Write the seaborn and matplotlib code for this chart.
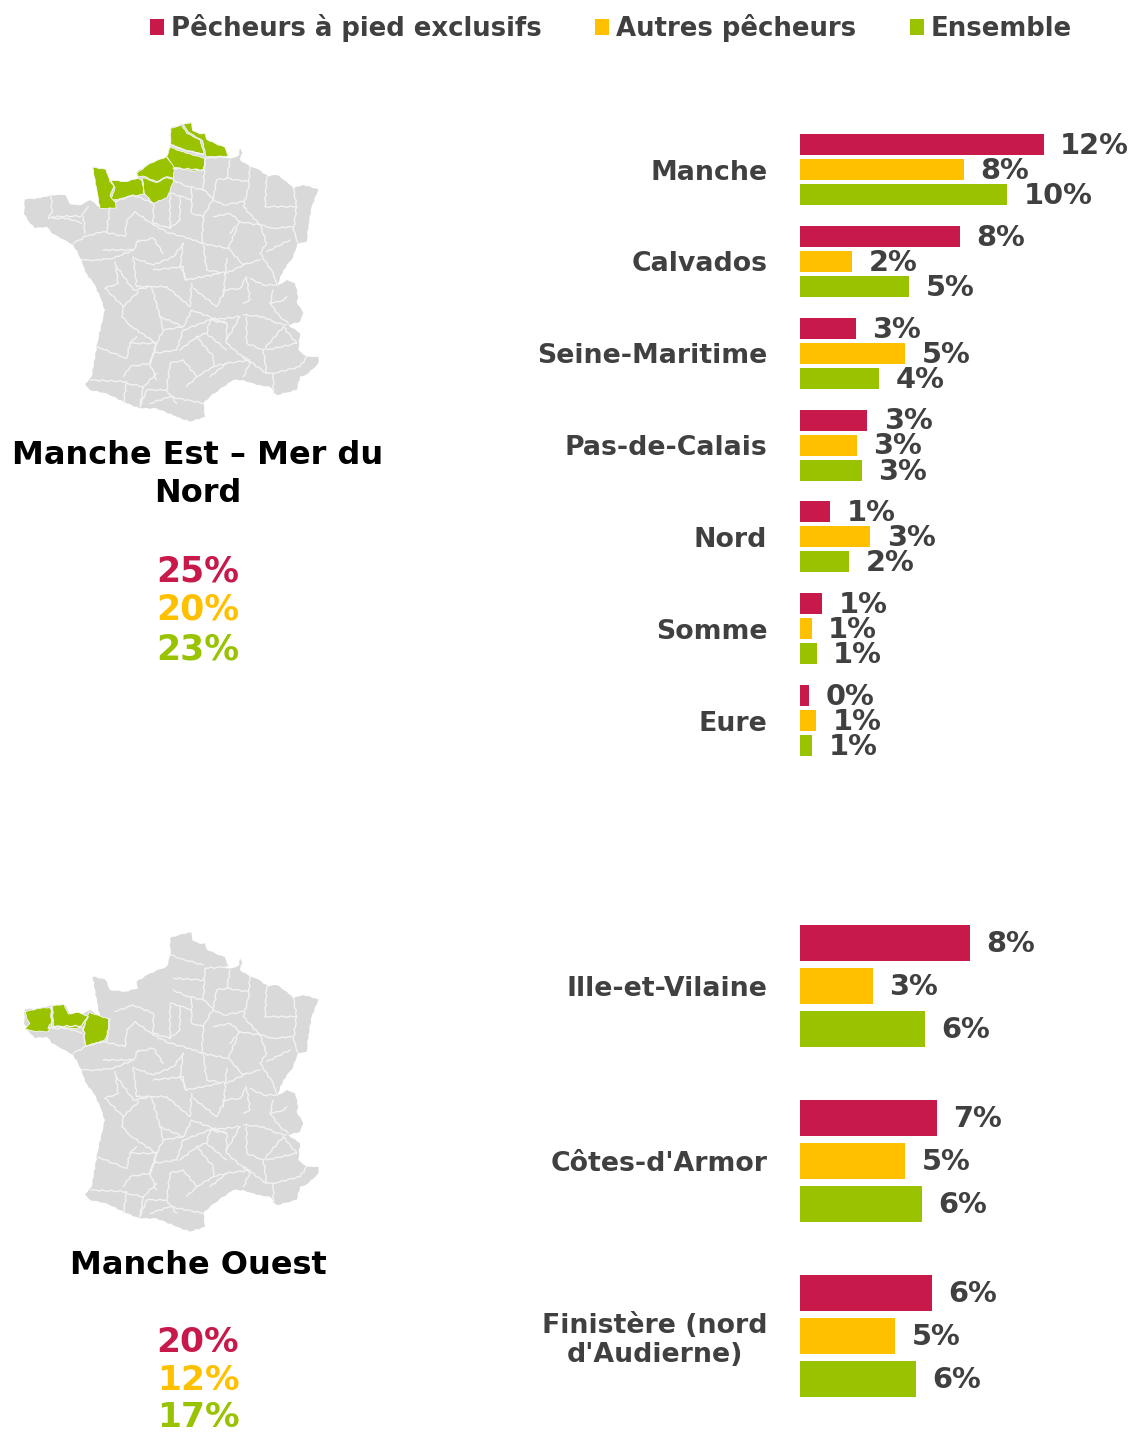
import pandas as pd
import numpy as np
import matplotlib.pyplot as plt
import seaborn as sns
from matplotlib.patches import Polygon

# donnees
series = ["Pêcheurs à pied exclusifs", "Autres pêcheurs", "Ensemble"]
colors = ["#C8194B", "#FFC000", "#99C300"]

est_depts = ["Manche", "Calvados", "Seine-Maritime", "Pas-de-Calais", "Nord", "Somme", "Eure"]
est_exclusifs = [11.6, 7.6, 2.67, 3.2, 1.43, 1.05, 0.43]
est_autres = [7.8, 2.47, 5.0, 2.7, 3.35, 0.55, 0.76]
est_ensemble = [9.86, 5.2, 3.76, 2.95, 2.33, 0.8, 0.57]
est_totaux = ["25%", "20%", "23%"]

ouest_depts = ["Ille-et-Vilaine", "Côtes-d'Armor", "Finistère (nord\nd'Audierne)"]
ouest_exclusifs = [8.1, 6.52, 6.3]
ouest_autres = [3.48, 5.0, 4.53]
ouest_ensemble = [5.95, 5.8, 5.52]
ouest_totaux = ["20%", "12%", "17%"]

# carte (coordonnees du crop x3, origine x=10 y=110)
france = [(480,55),(515,42),(545,38),(548,62),(570,72),(585,70),(590,88),(615,100),(645,112),(655,138),
          (640,142),(665,145),(688,135),(690,115),(697,128),(690,150),(720,170),(745,178),(775,200),(800,195),
          (830,215),(850,235),(880,225),(925,238),(905,290),(895,345),(890,395),(862,402),(850,440),(820,480),
          (800,530),(830,510),(855,520),(865,560),(860,575),(880,610),(870,635),(835,645),(870,670),(865,720),
          (890,740),(925,740),(925,760),(895,790),(870,800),(860,840),(800,855),(780,830),(740,825),(700,810),
          (670,810),(640,830),(600,860),(580,880),(585,920),(540,935),(500,920),(440,895),(390,895),(350,880),(290,850),
          (240,840),(225,822),(245,800),(262,700),(275,640),(285,600),(270,560),(255,525),(225,485),(215,450),
          (190,405),(165,390),(125,370),(110,350),(75,355),(60,340),(42,312),(45,268),(90,265),(125,255),(165,255),(180,283),
          (215,285),(240,270),(270,292),(262,250),(248,170),(285,178),(300,210),(345,215),(385,205),(380,185),(420,160),
          (470,140),(482,105)]

borders = [
    [(480,105),(520,118),(580,135)], [(585,145),(650,140)], [(490,175),(580,180)],
    [(490,210),(520,225),(580,240)], [(585,145),(580,240),(610,265)], [(660,150),(650,205),(620,210),(610,265)],
    [(720,170),(715,235),(700,290)], [(650,205),(715,215)], [(610,270),(640,285),(700,275)],
    [(770,200),(765,290)], [(765,290),(860,290)], [(850,235),(860,290),(850,360)],
    [(700,290),(750,345),(790,355),(845,350)], [(850,360),(865,400)], [(545,230),(545,310),(580,320),(610,265)],
    [(580,320),(575,400),(655,415)], [(610,320),(660,310),(690,335)], [(660,370),(690,335),(750,345)],
    [(655,415),(680,355)], [(655,415),(700,465),(750,450)], [(750,345),(770,400),(750,430)],
    [(770,425),(840,390)], [(750,430),(790,490),(800,520)], [(720,505),(760,525),(800,525)],
    [(580,405),(590,480),(650,490),(710,460)], [(650,445),(640,560)], [(640,540),(690,535),(710,500)],
    [(710,505),(720,570),(700,580)], [(780,580),(810,575),(830,560)], [(700,615),(760,620),(800,640),(830,645)],
    [(790,540),(780,580),(810,620),(835,640)], [(710,620),(710,700),(760,720),(820,650)],
    [(700,740),(770,790),(790,790),(790,850)], [(770,720),(860,700)], [(790,790),(870,770),(890,740)],
    [(650,700),(720,760),(700,800)], [(600,800),(650,760),(720,750)], [(510,720),(560,680),(610,740),(610,770),(560,800)],
    [(430,730),(500,720)], [(480,760),(520,750),(560,800),(530,830)], [(420,880),(480,860),(580,880)],
    [(390,890),(410,840),(470,840),(500,880)], [(350,820),(400,830),(440,790)], [(240,810),(350,815)],
    [(340,800),(360,770),(420,760),(440,810)], [(262,710),(310,730),(350,745)], [(350,745),(360,700),(380,680)],
    [(365,650),(440,700),(460,660),(450,620)], [(450,620),(520,650),(545,600)], [(470,530),(540,590),(545,520)],
    [(530,510),(630,490)], [(550,535),(620,590),(645,540)], [(520,660),(600,630),(650,640)],
    [(590,670),(650,720)], [(600,630),(690,620)], [(690,620),(650,690)],
    [(285,535),(340,590),(335,620),(365,650)], [(320,470),(370,540),(425,530)], [(315,455),(325,520)],
    [(370,440),(380,530),(425,530)], [(430,480),(520,470),(525,510)], [(520,400),(510,470)],
    [(375,445),(430,465),(490,440),(520,400)], [(215,450),(255,450),(310,445),(370,420)], [(280,420),(370,420),(385,390)],
    [(385,395),(430,385),(460,430)], [(430,280),(430,340),(480,355),(510,330)], [(480,370),(540,385),(575,400)],
    [(480,250),(520,260),(545,270)], [(125,255),(125,310),(115,325)], [(115,325),(175,325),(215,340)],
    [(125,320),(215,318),(235,290)], [(220,320),(225,370)], [(190,400),(230,378),(280,365),(345,380)],
    [(300,295),(290,365)], [(345,380),(350,330),(375,305),(430,345)], [(315,275),(370,255),(430,280)],
    [(450,620),(425,530)], [(545,600),(650,640)], [(420,760),(440,700)], [(600,630),(590,670),(560,680)],
    [(480,255),(480,355)], [(510,260),(510,330)], [(430,345),(480,370)],
    [(285,535),(325,520)], [(340,590),(385,545)], [(425,530),(470,530)], [(510,470),(530,510)],
    [(360,700),(440,700)], [(440,700),(430,730),(420,760)], [(500,720),(520,660)], [(460,660),(520,650)],
    [(650,640),(650,700)], [(610,770),(650,760)], [(760,720),(770,790)], [(820,650),(860,700)],
    [(350,815),(340,880)], [(400,830),(390,890)], [(470,840),(480,760)],
]

manche_est = [
    [(482,55),(515,45),(530,70),(570,90),(582,132),(530,122),(482,103)],
    [(520,42),(545,38),(548,62),(570,72),(585,70),(590,88),(615,100),(645,112),(655,138),(588,140),(578,92),(535,66)],
    [(480,112),(530,130),(585,145),(580,178),(550,184),(492,172),(470,140)],
    [(380,190),(420,160),(470,140),(492,172),(490,205),(470,200),(440,215),(400,198),(385,200)],
    [(398,203),(440,218),(470,203),(492,208),(472,262),(430,280),(403,250)],
    [(302,210),(345,215),(385,205),(396,212),(402,252),(350,262),(303,272),(315,232)],
    [(248,172),(288,178),(300,215),(312,228),(300,258),(317,278),(318,294),(270,296),(262,250)],
]
manche_ouest = [
    [(45,275),(90,265),(122,263),(125,315),(115,335),(70,333),(45,327),(60,310),(50,295)],
    [(128,258),(162,253),(175,282),(205,277),(236,290),(220,322),(190,325),(130,318)],
    [(237,277),(296,297),(296,335),(282,362),(228,377),(218,335)],
]


def to_px(pts, dy):
    return [(10 + x / 3, 110 + y / 3 + dy) for x, y in pts]


def wiggle(pts, amp, closed=False):
    # petites irregularites pour les frontieres, purement decoratif
    pts = list(pts) + [pts[0]] if closed else list(pts)
    out = []
    for (x0, y0), (x1, y1) in zip(pts[:-1], pts[1:]):
        d = np.hypot(x1 - x0, y1 - y0)
        n = max(int(d / 9), 1)
        for i in range(n):
            t = i / n
            x = x0 + t * (x1 - x0)
            y = y0 + t * (y1 - y0)
            off = amp * np.sin(t * n * 2.3 + x0) * (0 if i == 0 else 1)
            out.append((x - off * (y1 - y0) / (d + 1e-6), y + off * (x1 - x0) / (d + 1e-6)))
    if not closed:
        out.append(pts[-1])
    return out


def draw_map(ax, dy, highlighted):
    ax.add_patch(Polygon(to_px(wiggle(france, 1.8, True), dy), closed=True, fc="#D9D9D9", ec="none"))
    for b in borders:
        p = np.array(to_px(wiggle(b, 2.5), dy))
        ax.plot(p[:, 0], p[:, 1], color="#F2F2F2", lw=1.0, solid_joinstyle="round")
    for poly in highlighted:
        ax.add_patch(Polygon(to_px(wiggle(poly, 1.2, True), dy), closed=True, fc=colors[2], ec="#FFFFFF", lw=0.5))


def draw_bars(fig, top, bottom, depts, a, b, c, width, fs):
    ax = fig.add_axes([800 / 1133, 1 - bottom / 1432, 333 / 1133, (bottom - top) / 1432])
    df = pd.DataFrame({"dept": depts * 3,
                       "groupe": np.repeat(series, len(depts)),
                       "val": a + b + c})
    sns.barplot(data=df, y="dept", x="val", hue="groupe", palette=colors, hue_order=series,
                width=width, gap=0.16, saturation=1, legend=False, linewidth=0, ax=ax)
    ax.set_xlim(0, 333 / 21)
    ax.set_ylim(len(depts) - 0.5, -0.5)
    ax.set_xlabel("")
    ax.set_ylabel("")
    ax.set_xticks([])
    ax.tick_params(axis="y", length=0, pad=23.5)
    for lab in ax.get_yticklabels():
        lab.set_fontsize(19.3)
        lab.set_fontweight("bold")
        lab.set_color("#404040")
        lab.set_multialignment("center")
        lab.set_linespacing(1.15)
    for cont in ax.containers:
        labs = ax.bar_label(cont, fmt="{:.0f}%", padding=11.8, fontsize=fs, fontweight="bold", color="#404040")
        for t in labs:
            t.xyann = (t.xyann[0], t.xyann[1] - 1.0)
    sns.despine(ax=ax, left=True, bottom=True)
    ax.patch.set_alpha(0)
    return ax


sns.set_theme(style="white")
plt.rcParams["font.family"] = ["DejaVu Sans"]

fig = plt.figure(figsize=(11.33, 14.32), dpi=100)

bg = fig.add_axes([0, 0, 1, 1])
bg.set_xlim(0, 1133)
bg.set_ylim(1432, 0)
bg.axis("off")

draw_map(bg, 0, manche_est)
draw_map(bg, 810, manche_ouest)

bg.text(198, 474.5, "Manche Est – Mer du\nNord", ha="center", va="center", fontsize=23, fontweight="bold",
        color="black", linespacing=1.32)
bg.text(198, 1265.5, "Manche Ouest", ha="center", va="center", fontsize=23, fontweight="bold", color="black")
for txt, col, y in zip(est_totaux, colors, [571, 610, 649]):
    bg.text(198, y, txt, ha="center", va="center", fontsize=25, fontweight="bold", color=col)
for txt, col, y in zip(ouest_totaux, colors, [1342, 1381, 1417.5]):
    bg.text(198, y, txt, ha="center", va="center", fontsize=24.8, fontweight="bold", color=col)

ax1 = draw_bars(fig, 123.6, 766.6, est_depts, est_exclusifs, est_autres, est_ensemble, 0.817, 20.8)
ax2 = draw_bars(fig, 898.2, 1423.2, ouest_depts, ouest_exclusifs, ouest_autres, ouest_ensemble, 0.737, 20.8)

# legende
handles = [plt.Rectangle((0, 0), 1, 1, fc=c, ec="none") for c in colors]
fig.legend(handles, series, ncols=3, loc="center", bbox_to_anchor=(611 / 1133, 1 - 28 / 1432), frameon=False,
           labelcolor="#404040", prop={"weight": "bold", "size": 18.7},
           handlelength=0.55, handleheight=0.55, handletextpad=0.27, columnspacing=2.05)

fig.savefig("out.png", dpi=100)
